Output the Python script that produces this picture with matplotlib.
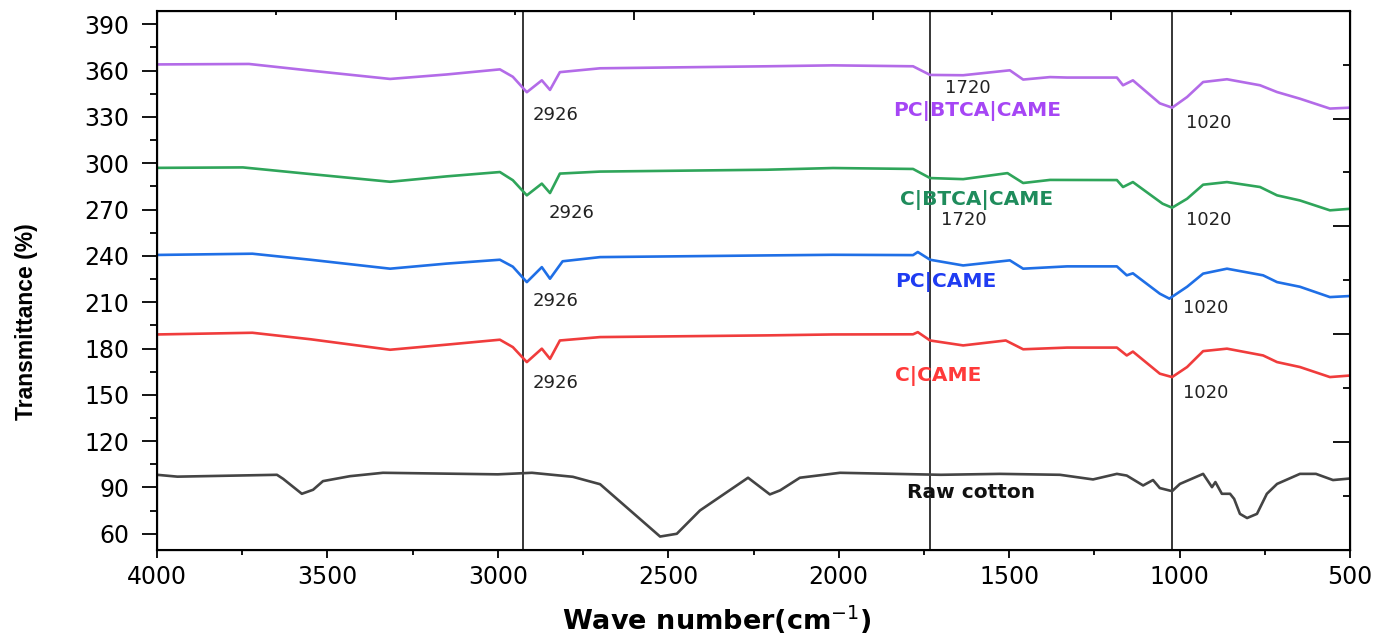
import numpy as np
import matplotlib
matplotlib.use("Agg")
import matplotlib.pyplot as plt
from matplotlib.ticker import MultipleLocator


# FTIR spectra, values (wave number, transmittance %)
pc_btca_wn = [4000, 3730, 3550, 3316, 3150, 2994, 2956, 2915, 2871, 2847, 2818, 2700,
              2210, 2017, 1782, 1732, 1635, 1498, 1459, 1380, 1330, 1184, 1166, 1137,
              1058, 1022, 978, 931, 861, 764, 714, 647, 559, 500]
pc_btca_t = [364.0, 364.3, 360.0, 354.6, 357.5, 360.8, 356.0, 346.0, 353.7, 347.5, 359.0, 361.5,
             362.8, 363.4, 362.8, 357.2, 357.0, 360.2, 354.2, 355.8, 355.5, 355.5, 350.5, 353.7,
             338.8, 336.0, 342.9, 352.6, 354.4, 350.5, 346.1, 341.8, 335.4, 336.0]

c_btca_wn = [4000, 3748, 3550, 3316, 3150, 2994, 2956, 2915, 2871, 2847, 2818, 2700,
             2210, 2017, 1782, 1732, 1635, 1505, 1459, 1380, 1184, 1166, 1137, 1050,
             1022, 978, 931, 861, 764, 714, 647, 559, 500]
c_btca_t = [297.0, 297.3, 293.0, 288.0, 291.5, 294.3, 289.0, 279.2, 286.8, 280.7, 293.3, 294.6,
            295.8, 296.9, 296.3, 290.4, 289.7, 293.6, 287.2, 289.2, 289.1, 284.6, 287.8, 273.8,
            271.2, 277.0, 286.1, 287.8, 284.6, 279.2, 275.9, 269.5, 270.5]

pc_came_wn = [4000, 3720, 3550, 3316, 3150, 2994, 2956, 2915, 2871, 2847, 2810, 2700,
              2210, 2017, 1782, 1768, 1732, 1635, 1498, 1459, 1330, 1184, 1155, 1137,
              1058, 1030, 978, 931, 861, 755, 714, 647, 559, 500]
pc_came_t = [240.6, 241.4, 237.5, 231.7, 235.0, 237.5, 233.0, 223.0, 232.7, 225.2, 236.5, 239.2,
             240.3, 240.7, 240.5, 242.5, 237.5, 233.8, 237.1, 231.7, 233.2, 233.2, 227.4, 228.7,
             215.5, 212.3, 220.0, 228.5, 231.7, 227.4, 223.0, 220.0, 213.3, 214.0]

c_came_wn = [4000, 3720, 3550, 3316, 3150, 2994, 2956, 2915, 2871, 2847, 2818, 2700,
             2210, 2017, 1782, 1768, 1732, 1635, 1510, 1459, 1330, 1184, 1155, 1137,
             1058, 1022, 978, 931, 861, 755, 714, 647, 559, 500]
c_came_t = [189.1, 190.2, 186.0, 179.2, 182.5, 185.7, 180.9, 171.2, 179.9, 173.3, 185.2, 187.4,
            188.5, 189.1, 189.2, 190.6, 185.2, 182.0, 185.2, 179.5, 180.6, 180.6, 175.5, 178.0,
            163.7, 161.5, 168.0, 178.3, 179.9, 175.5, 171.2, 168.0, 161.5, 162.5]

raw_wn = [4000, 3940, 3648, 3630, 3575, 3542, 3513, 3434, 3337, 3000, 2900, 2780, 2700,
          2524, 2475, 2407, 2266, 2202, 2172, 2114, 1996, 1700, 1527, 1351, 1254, 1184,
          1155, 1107, 1078, 1058, 1022, 999, 931, 905, 895, 876, 852, 840, 823, 802,
          773, 744, 714, 647, 600, 550, 500]
raw_t = [98.2, 97.0, 98.2, 95.6, 85.9, 88.5, 94.1, 97.3, 99.5, 98.5, 99.5, 96.9, 92.1,
         58.2, 60.0, 75.1, 96.3, 85.5, 88.1, 96.3, 99.5, 98.2, 98.8, 98.2, 95.2, 98.8,
         97.7, 91.3, 94.8, 89.6, 87.6, 92.3, 98.8, 90.2, 93.5, 85.9, 85.9, 82.6, 72.9, 70.2,
         72.9, 85.9, 92.3, 98.8, 98.8, 94.8, 95.8]

peak_lines = [2926, 1732, 1023]

# annotations: (text, x, y)
peak_labels = [("2926", 2830, 331), ("2926", 2785, 268), ("2926", 2830, 211), ("2926", 2830, 157.5),
               ("1720", 1621, 348.5), ("1720", 1634, 263),
               ("1020", 914, 326), ("1020", 914, 263), ("1020", 922, 206.5), ("1020", 922, 151)]
sample_labels = [("PC|BTCA|CAME", 1841, 334, "#a646f5"),
                 ("C|BTCA|CAME", 1820, 276.5, "#1f8c5c"),
                 ("PC|CAME", 1835, 222.8, "#1f3cf2"),
                 ("C|CAME", 1835, 162.5, "#ff3a3a"),
                 ("Raw cotton", 1800, 86.7, "#111111")]

fig = plt.figure(figsize=(13.99, 6.37), dpi=100)
ax = fig.add_axes([0.1122, 0.1366, 0.965 - 0.1122, 0.9832 - 0.1366])

ax.plot(raw_wn, raw_t, color="#444444", lw=1.9)
ax.plot(c_came_wn, c_came_t, color="#f03c3c", lw=1.9)
ax.plot(pc_came_wn, pc_came_t, color="#1f6fe6", lw=1.9)
ax.plot(c_btca_wn, c_btca_t, color="#2fa55a", lw=1.9)
ax.plot(pc_btca_wn, pc_btca_t, color="#b36be8", lw=1.9)

for x in peak_lines:
    ax.axvline(x, color="black", lw=1.1, zorder=0)

for txt, x, y in peak_labels:
    ax.text(x, y, txt, fontsize=13, ha="center", va="center", color="#222222")
for txt, x, y, c in sample_labels:
    ax.text(x, y, txt, fontsize=14.5, fontweight="bold", ha="left", va="center", color=c)

ax.set_xlim(4000, 500)
ax.set_ylim(49.5, 398.8)
ax.xaxis.set_major_locator(MultipleLocator(500))
ax.xaxis.set_minor_locator(MultipleLocator(250))
ax.yaxis.set_major_locator(MultipleLocator(30))
ax.yaxis.set_minor_locator(MultipleLocator(15))
ax.set_yticks(np.arange(60, 391, 30))

ax.tick_params(axis="y", which="major", direction="out", length=11, width=1.3, labelsize=17, pad=9)
ax.tick_params(axis="y", which="minor", direction="out", length=5, width=1.3)
ax.tick_params(axis="x", which="major", direction="out", length=6, width=1.3, labelsize=17, pad=5)
ax.tick_params(axis="x", which="minor", direction="out", length=3.5, width=1.3)

for s in ax.spines.values():
    s.set_linewidth(1.5)

# unlabeled ticks on top and right
top = ax.twiny()
top.set_xlim(0, 10)
top.xaxis.set_major_locator(MultipleLocator(2))
top.xaxis.set_minor_locator(MultipleLocator(1))
top.tick_params(axis="x", which="major", direction="in", length=6.5, width=1.3, labeltop=False)
top.tick_params(axis="x", which="minor", direction="in", length=3.2, width=1.3)
right = ax.twinx()
right.set_ylim(0, 10)
right.yaxis.set_major_locator(MultipleLocator(2))
right.yaxis.set_minor_locator(MultipleLocator(1))
right.tick_params(axis="y", which="major", direction="in", length=12, width=1.3, labelright=False)
right.tick_params(axis="y", which="minor", direction="in", length=5, width=1.3)

ax.set_xlabel("Wave number(cm$^{-1}$)", fontsize=19.5, fontweight="bold")
ax.xaxis.set_label_coords(0.469, -0.1)
ax.set_ylabel("Transmittance (%)", fontsize=16.5, fontweight="bold",
              family=["Liberation Sans", "DejaVu Sans"])
ax.yaxis.set_label_coords(-0.1, 0.423)

fig.savefig("out.png", dpi=100)
